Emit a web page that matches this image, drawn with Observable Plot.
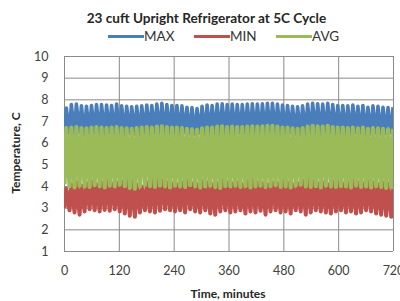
<!DOCTYPE html>
<html><head><meta charset="utf-8">
<script src="https://cdn.jsdelivr.net/npm/d3@7"></script>
<script src="https://cdn.jsdelivr.net/npm/@observablehq/plot@0.6"></script>
<style>
body{margin:0;background:#fff;}
#wrap{position:relative;width:400px;height:301px;overflow:hidden;font-family:Lato,"Open Sans",sans-serif;color:#262626;}
#title{position:absolute;left:0;width:413px;top:12px;text-align:center;font-weight:bold;font-size:13.6px;line-height:1;}
.lg{position:absolute;height:3px;top:35px;}
.lt{position:absolute;top:30px;font-size:13.5px;line-height:1;color:#333;}
#ylab{position:absolute;left:-84px;top:146px;width:200px;text-align:center;font-weight:bold;font-size:12px;line-height:14px;transform:rotate(-90deg);}
#xlab{position:absolute;left:128px;width:200px;top:288px;text-align:center;font-weight:bold;font-size:12px;line-height:1;}
#chart{position:absolute;left:0;top:0;}
</style></head>
<body>
<div id="wrap">
  <div id="chart"></div>
  <div id="title">23 cuft Upright Refrigerator at 5C Cycle</div>
  <div class="lg" style="left:108px;width:36px;background:#4a7ebb"></div><div class="lt" style="left:144px">MAX</div>
  <div class="lg" style="left:194px;width:36px;background:#c0504d"></div><div class="lt" style="left:230px">MIN</div>
  <div class="lg" style="left:276px;width:36px;background:#9bbb59"></div><div class="lt" style="left:312px">AVG</div>
  <div id="ylab">Temperature, C</div>
  <div id="xlab">Time, minutes</div>
</div>
<script>
const seriesNames = ["MAX", "MIN", "AVG"];
const seriesColors = ["#4a7ebb", "#c0504d", "#9bbb59"];
const seriesWidths = [3.6, 4.0, 4.2];
const xTicks = [0, 120, 240, 360, 480, 600, 720];
const yTicks = [1, 2, 3, 4, 5, 6, 7, 8, 9, 10];

const troughMinutes = [0,11,22,33,44,55,66,77,88,99,110,121,132,143,154,165,176,187,198,209,220,231,242,253,264,275,286,297,308,319,330,341,352,363,374,385,396,407,418,429,440,451,462,473,484,495,506,517,528,539,550,561,572,583,594,605,616,627,638,649,660,671,682,693,704,715];
const peakMinutes = [4,15,26,37,48,59,70,81,92,103,114,125,136,147,158,169,180,191,202,213,224,235,246,257,268,279,290,301,312,323,334,345,356,367,378,389,400,411,422,433,444,455,466,477,488,499,510,521,532,543,554,565,576,587,598,609,620,631,642,653,664,675,686,697,708,719];

const maxPeaks = [7.62,7.78,7.80,7.72,7.70,7.74,7.78,7.78,7.76,7.74,7.80,
  7.72,7.70,7.68,7.70,7.72,7.76,7.74,7.80,7.84,7.78,7.74,
  7.74,7.72,7.66,7.64,7.60,7.70,7.76,7.74,7.80,7.82,7.78,
  7.80,7.78,7.78,7.80,7.82,7.80,7.82,7.84,7.84,7.80,7.76,
  7.74,7.70,7.68,7.72,7.80,7.84,7.82,7.80,7.84,7.78,7.74,
  7.74,7.72,7.76,7.70,7.74,7.66,7.72,7.70,7.66,7.64,7.66];
const maxTroughs = [6.50,6.45,6.42,6.48,6.40,6.44,6.46,6.42,6.40,6.45,6.43,
  6.44,6.40,6.46,6.42,6.38,6.44,6.40,6.46,6.42,6.40,6.44,
  6.45,6.42,6.48,6.44,6.40,6.46,6.42,6.38,6.44,6.40,6.43,
  6.42,6.40,6.44,6.46,6.40,6.42,6.38,6.40,6.44,6.42,6.40,
  6.44,6.46,6.42,6.40,6.38,6.42,6.44,6.40,6.43,6.46,6.42,
  6.44,6.40,6.42,6.46,6.44,6.40,6.42,6.45,6.43,6.44,6.48];
const avgPeaks = [6.70,6.72,6.74,6.70,6.68,6.72,6.74,6.72,6.70,6.72,6.74,
  6.70,6.68,6.66,6.70,6.72,6.74,6.72,6.76,6.78,6.74,6.72,
  6.72,6.70,6.66,6.64,6.62,6.68,6.72,6.72,6.76,6.78,6.74,
  6.76,6.74,6.74,6.76,6.78,6.76,6.78,6.80,6.80,6.76,6.72,
  6.72,6.68,6.66,6.70,6.76,6.80,6.78,6.76,6.80,6.74,6.72,
  6.72,6.70,6.72,6.68,6.72,6.66,6.70,6.68,6.66,6.64,6.66];
const avgTroughs = [4.10,4.02,3.96,4.04,4.00,3.98,4.06,4.02,3.96,4.04,4.00,
  4.08,4.02,3.94,3.90,4.00,4.06,4.02,3.98,4.04,4.00,3.96,
  4.04,4.00,3.98,4.06,4.02,3.96,4.00,4.04,3.98,3.94,4.02,
  4.00,4.04,3.98,4.02,3.96,4.00,4.04,3.98,4.02,4.06,3.98,
  4.00,3.96,4.04,4.08,4.00,3.98,4.02,3.96,4.04,4.00,3.98,
  4.02,4.00,3.96,4.04,3.98,4.00,3.96,4.02,3.98,3.94,3.96];
const minPeaks = [3.90,4.10,4.20,4.05,4.15,4.25,4.10,4.20,4.30,4.15,4.20,
  4.25,4.40,4.30,4.10,4.00,4.20,4.35,4.45,4.30,4.20,4.15,
  4.10,4.20,4.30,4.15,4.10,4.25,4.20,4.10,4.15,4.30,4.20,
  4.15,4.20,4.10,4.25,4.30,4.20,4.15,4.10,4.20,4.15,4.25,
  4.20,4.10,4.15,4.30,4.45,4.25,4.15,4.20,4.10,4.25,4.20,
  4.15,4.20,4.30,4.20,4.15,4.25,4.20,4.10,4.20,4.15,4.05];
const minTroughs = [3.00,2.90,2.80,2.70,2.85,2.95,2.90,2.85,2.92,2.88,2.95,
  2.85,2.75,2.65,2.60,2.80,2.90,2.85,2.80,2.88,2.95,2.90,
  2.85,2.90,2.80,2.95,2.85,2.80,2.90,2.75,2.70,2.85,2.90,
  2.80,2.85,2.90,2.75,2.85,2.80,2.88,2.70,2.85,2.90,2.80,
  2.85,2.75,2.90,2.85,2.70,2.80,2.90,2.85,2.80,2.75,2.85,
  2.90,2.80,2.85,2.75,2.80,2.90,2.85,2.75,2.70,2.65,2.60];

function buildSeries(name, troughs, peaks) {
  const rows = [];
  for (let i = 0; i < peakMinutes.length; i++) {
    rows.push({series: name, t: troughMinutes[i], v: troughs[i]});
    rows.push({series: name, t: peakMinutes[i], v: peaks[i]});
  }
  return rows;
}
const dataMax = buildSeries("MAX", maxTroughs, maxPeaks);
const dataMin = buildSeries("MIN", minTroughs, minPeaks);
const dataAvg = buildSeries("AVG", avgTroughs, avgPeaks);

const lineOpts = {x: "t", y: "v", strokeLinejoin: "round", strokeLinecap: "butt", clip: true};

const chart = Plot.plot({
  width: 400,
  height: 301,
  marginTop: 56,
  marginBottom: 50,
  marginLeft: 64,
  marginRight: 7,
  style: {fontFamily: "Lato, sans-serif", fontSize: "12.5px", color: "#404040", background: "transparent"},
  x: {domain: [0, 720], ticks: xTicks, tickSize: 0, tickPadding: 15, label: null},
  y: {domain: [1, 10], ticks: yTicks, tickSize: 0, tickPadding: 16, label: null},
  marks: [
    Plot.ruleY(yTicks, {stroke: "#8a8a8a", strokeWidth: 1}),
    Plot.ruleX(xTicks, {stroke: "#8a8a8a", strokeWidth: 1}),
    Plot.line(dataMax, {...lineOpts, stroke: seriesColors[0], strokeWidth: seriesWidths[0]}),
    Plot.line(dataMin, {...lineOpts, stroke: seriesColors[1], strokeWidth: seriesWidths[1]}),
    Plot.line(dataAvg, {...lineOpts, stroke: seriesColors[2], strokeWidth: seriesWidths[2]})
  ]
});
document.getElementById("chart").appendChild(chart);
</script>
</body></html>
